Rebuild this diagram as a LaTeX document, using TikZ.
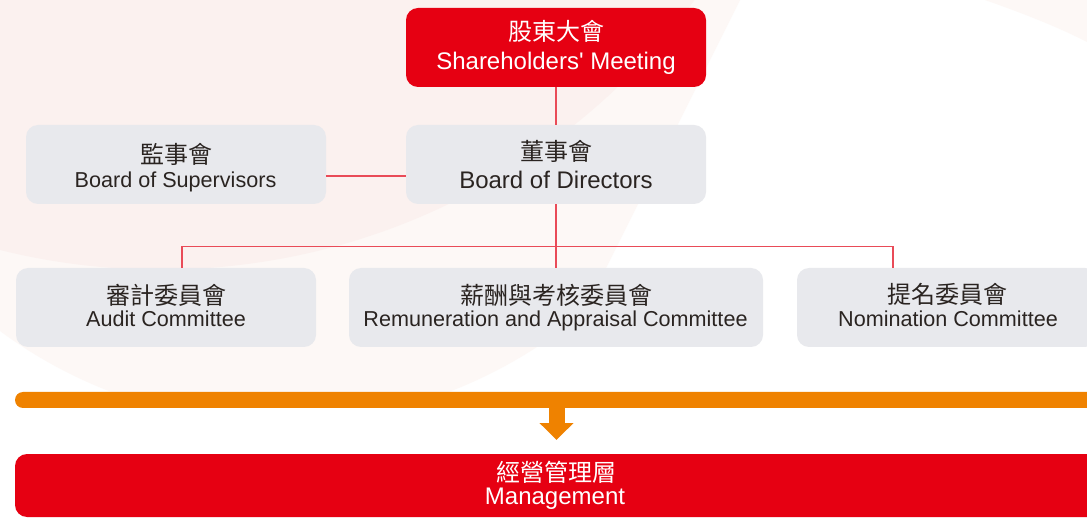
\documentclass[tikz,border=0pt]{standalone}
\usepackage{fontspec}
\setmainfont{Liberation Sans}
\newfontfamily\plainsans{Liberation Sans}
\newfontfamily\cjk{Noto Sans CJK TC}
\usetikzlibrary{arrows.meta}
\definecolor{cred}{HTML}{E60012}
\definecolor{cgray}{HTML}{E8E9ED}
\definecolor{cdark}{HTML}{2A2421}
\definecolor{corange}{HTML}{EF8200}
\definecolor{cline}{HTML}{E94B58}
\definecolor{bgpink}{HTML}{FBF1EF}
\definecolor{bgfaint}{HTML}{FDF8F6}
\begin{document}
\begin{tikzpicture}[x=1pt,y=-1pt,
  redbox/.style={fill=cred, rounded corners=12pt, inner sep=0pt, minimum height=79pt},
  graybox/.style={fill=cgray, rounded corners=12pt, inner sep=0pt, minimum height=79pt},
  conn/.style={draw=cline, line width=1.6pt},
  cjkbig/.style={inner sep=0pt, anchor=base, font=\cjk\fontsize{24}{28}\selectfont},
  latbig/.style={inner sep=0pt, anchor=base, font=\fontsize{24}{28}\selectfont},
  latsmall/.style={inner sep=0pt, anchor=base, font=\fontsize{21.6}{26}\selectfont},
  darktext/.style={text=cdark},
  whitetext/.style={text=white}]
\useasboundingbox (0,0) rectangle (1087,518);
\fill[white] (0,0) rectangle (1087,518);
% background swoosh
\begin{scope}
  \clip (0,0) -- (740,0) -- (540,400) -- (0,400) -- cycle;
  \fill[bgfaint] (280,-49) circle (472);
\end{scope}
\begin{scope}
  \clip (0,0) rectangle (740,400);
  \fill[bgpink] (160.8,-393.4) circle (663);
\end{scope}
\fill[bgfaint] (985,0) .. controls (1025,14) and (1060,28) .. (1087,42) -- (1087,0) -- cycle;

% boxes
\node[redbox, minimum width=300pt] (sh) at (556,47.5) {};
\node[graybox, minimum width=300pt] (dir) at (556,164.5) {};
\node[graybox, minimum width=300pt] (sup) at (176,164.5) {};
\node[graybox, minimum width=300pt] (aud) at (166,307.5) {};
\node[graybox, minimum width=414pt] (rem) at (556,307.5) {};
\node[graybox, minimum width=300pt] (nom) at (947,307.5) {};
\node[fill=corange, rounded corners=8pt, inner sep=0pt, minimum width=1085pt, minimum height=16pt] (bar) at (557.5,400) {};
\node[redbox, minimum width=1085pt, minimum height=63pt] (mg) at (557.5,485.5) {};

% connectors
\draw[conn] (sh.south) -- (dir.north);
\draw[conn] ([yshift=-11.5pt]sup.east) -- ([yshift=-11.5pt]dir.west);
\draw[conn] (dir.south) -- (rem.north);
\coordinate (hb) at (556,246.5);
\draw[conn] ([xshift=16pt]aud.north) |- (hb) -| ([xshift=-54pt]nom.north);
\coordinate (tip) at (556.5,440);
\draw[corange, line width=16pt, -{Triangle[length=17pt,width=33pt]}] (bar.south -| tip) ++(0,-1) -- (tip);

% texts
\node[cjkbig, whitetext] (shc) at (556,40.5) {股東大會};
\node[latbig, whitetext] (she) at (556,70) {Shareholders{\plainsans '} Meeting};
\node[cjkbig, darktext] (dirc) at (556,160.5) {董事會};
\node[latbig, darktext] (dire) at (556,189) {Board of Directors};
\node[cjkbig, darktext] (supc) at (176,163.5) {監事會};
\node[latsmall, darktext] (supe) at (175.5,188) {Board of Supervisors};
\node[cjkbig, darktext] (audc) at (166,305) {審計委員會};
\node[latsmall, darktext] (aude) at (166,327) {Audit Committee};
\node[cjkbig, darktext] (remc) at (556,305) {薪酬與考核委員會};
\node[latsmall, darktext] (reme) at (555.5,327) {Remuneration and Appraisal Committee};
\node[cjkbig, darktext] (nomc) at (947,304) {提名委員會};
\node[latsmall, darktext] (nome) at (948,327) {Nomination Committee};
\node[cjkbig, whitetext] (mgc) at (556,481.5) {經營管理層};
\node[latbig, whitetext] (mge) at (555,504) {Management};
\end{tikzpicture}
\end{document}
